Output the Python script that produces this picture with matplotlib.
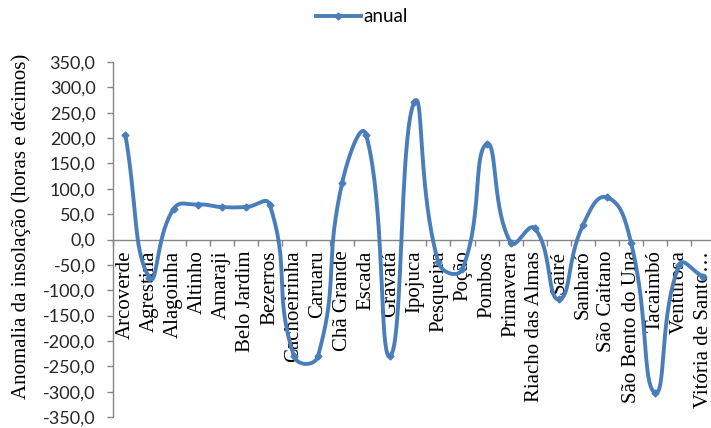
import numpy as np
import matplotlib
matplotlib.use("Agg")
import matplotlib.pyplot as plt
from matplotlib.lines import Line2D

# Annual sunshine anomaly per municipality
municipios = [
    "Arcoverde", "Agrestina", "Alagoinha", "Altinho", "Amaraji", "Belo Jardim",
    "Bezerros", "Cachoeirinha", "Caruaru", "Chã Grande", "Escada", "Gravatá",
    "Ipojuca", "Pesqueira", "Poção", "Pombos", "Primavera", "Riacho das Almas",
    "Sairé", "Sanharó", "São Caitano", "São Bento do Una", "Tacaimbó",
    "Venturosa", "Vitória de Santo…",
]
anual = [
    207.0, -75.0, 60.0, 69.0, 64.0, 64.0,
    68.0, -230.0, -230.0, 111.0, 206.0, -230.0,
    271.0, -45.0, -58.0, 188.0, -6.0, 22.0,
    -118.0, 28.0, 83.0, -6.0, -302.0,
    -51.0, -73.0,
]
y_ticks = [350, 300, 250, 200, 150, 100, 50, 0, -50, -100, -150, -200, -250, -300, -350]
y_tick_labels = [f"{v:.1f}".replace(".", ",") for v in y_ticks]

LINE_COLOR = "#4A7EBB"
AXIS_COLOR = "#868686"

W, H, DPI = 711, 428, 100
fig = plt.figure(figsize=(W / DPI, H / DPI), dpi=DPI)

# axes box in pixels (right edge runs slightly past the canvas)
left_px, right_px, top_px, bottom_px = 113.3, 715.3, 62.0, 417.0
ax = fig.add_axes([left_px / W, 1 - bottom_px / H,
                   (right_px - left_px) / W, (bottom_px - top_px) / H])

n = len(anual)
ax.set_xlim(-0.5, n - 0.5)
ax.set_ylim(-350, 350)

# smoothed line: Bezier segments with distance-weighted control points,
# computed in screen units so the curve bends like a spreadsheet chart
sx = (right_px - left_px) / n
sy = (bottom_px - top_px) / 700.0
P = np.column_stack([np.arange(n) * sx, np.asarray(anual) * sy])
tension = 0.5
ctrl_f, ctrl_b = [], []
for i in range(n):
    prev = P[max(i - 1, 0)]
    nxt = P[min(i + 1, n - 1)]
    d = nxt - prev
    lb = np.linalg.norm(P[i] - prev)
    lf = np.linalg.norm(nxt - P[i])
    tot = lb + lf if lb + lf > 0 else 1.0
    ctrl_f.append(P[i] + d * tension * lf / tot)
    ctrl_b.append(P[i] - d * tension * lb / tot)
t = np.linspace(0, 1, 40)[:, None]
pts = []
for i in range(n - 1):
    p0, p1, p2, p3 = P[i], ctrl_f[i], ctrl_b[i + 1], P[i + 1]
    seg = ((1 - t) ** 3) * p0 + 3 * ((1 - t) ** 2) * t * p1 + 3 * (1 - t) * t ** 2 * p2 + t ** 3 * p3
    pts.append(seg if i == 0 else seg[1:])
curve = np.vstack(pts)
ax.plot(curve[:, 0] / sx, curve[:, 1] / sy, color=LINE_COLOR, lw=2.8,
        solid_capstyle="round", zorder=3)
ax.plot(np.arange(n), anual, ls="none", marker="D", ms=3.5,
        color=LINE_COLOR, zorder=4)

# spines
for s in ["top", "right"]:
    ax.spines[s].set_visible(False)
ax.spines["bottom"].set_position(("data", 0))
ax.spines["bottom"].set_color(AXIS_COLOR)
ax.spines["left"].set_color(AXIS_COLOR)
ax.spines["bottom"].set_linewidth(1.0)
ax.spines["left"].set_linewidth(1.0)

# y axis
ax.set_yticks(y_ticks)
ax.set_yticklabels(y_tick_labels, fontfamily="Lato", fontsize=13, color="#262626")
ax.tick_params(axis="y", direction="out", length=4.3, width=1.0,
               color=AXIS_COLOR, pad=8.5)

# x axis: ticks between categories, labels at centres
ax.set_xticks(np.arange(n + 1) - 0.5)
ax.set_xticklabels([])
ax.tick_params(axis="x", which="major", direction="out", length=4.0,
               width=1.0, color=AXIS_COLOR)
ax.set_xticks(np.arange(n), minor=True)
ax.set_xticklabels(municipios, minor=True, rotation=90,
                   fontfamily="Liberation Serif", fontsize=15, color="black")
ax.tick_params(axis="x", which="minor", length=0, pad=8.0)

fig.text(21 / W, 1 - 226 / H, "Anomalia da insolação (horas e décimos)",
         rotation=90, ha="center", va="center",
         fontfamily="Liberation Serif", fontsize=15, color="black")

handle = Line2D([], [], color=LINE_COLOR, lw=2.8, marker="D", ms=3.5)
fig.legend([handle], ["anual"], loc="center", bbox_to_anchor=(362 / W, 1 - 17 / H),
           frameon=False, prop={"family": "Lato", "size": 13.5},
           handlelength=2.4, handletextpad=0.15, markerfirst=True)

fig.savefig("out.png", dpi=DPI)
